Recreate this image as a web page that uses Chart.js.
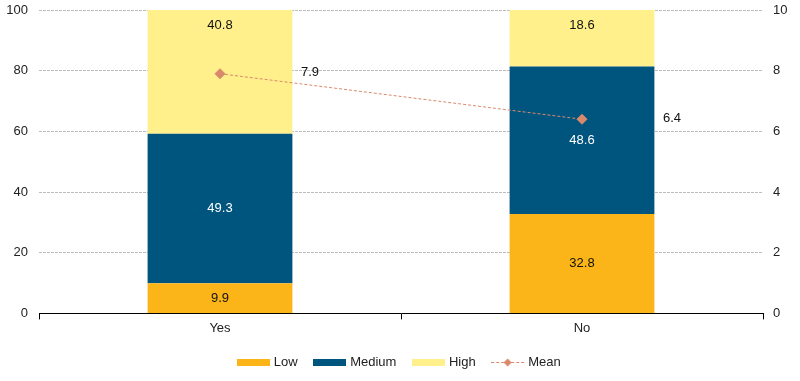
<!DOCTYPE html>
<html><head><meta charset="utf-8">
<script src="https://cdn.jsdelivr.net/npm/chart.js@4/dist/chart.umd.min.js"></script>
<style>html,body{margin:0;padding:0;background:#fff}#wrap{width:800px;height:381px}</style>
</head><body><div id="wrap"><canvas id="c" width="800" height="381"></canvas></div>
<script>
const categories = ["Yes", "No"];
const lowValues = [9.9, 32.8];
const mediumValues = [49.3, 48.6];
const highValues = [40.8, 18.6];
const meanValues = [7.9, 6.4];
const leftTicks = [0, 20, 40, 60, 80, 100];
const rightTicks = [0, 2, 4, 6, 8, 10];

const FONT = "'Liberation Sans', Arial, sans-serif";
const COL_LOW = '#FBB519', COL_MED = '#00557F', COL_HIGH = '#FFF08C', COL_MEAN = '#D98A6C';

function barIcon(color) {
  const c = document.createElement('canvas'); c.width = 33; c.height = 7;
  const x = c.getContext('2d'); x.fillStyle = color; x.fillRect(0, 0, 33, 7); return c;
}
function meanIcon() {
  const c = document.createElement('canvas'); c.width = 33; c.height = 11;
  const x = c.getContext('2d');
  x.strokeStyle = COL_MEAN; x.lineWidth = 1; x.setLineDash([3, 2]);
  x.beginPath(); x.moveTo(0, 5.5); x.lineTo(33, 5.5); x.stroke();
  x.setLineDash([]); x.fillStyle = COL_MEAN;
  x.beginPath(); x.moveTo(16.5, 1.5); x.lineTo(20.5, 5.5); x.lineTo(16.5, 9.5); x.lineTo(12.5, 5.5); x.closePath(); x.fill();
  return c;
}

const labelPlugin = {
  id: 'valueLabels',
  afterDatasetsDraw(chart) {
    const ctx = chart.ctx;
    ctx.save();
    ctx.font = '13px ' + FONT;
    ctx.textAlign = 'center'; ctx.textBaseline = 'middle';
    chart.data.datasets.forEach((ds, di) => {
      const meta = chart.getDatasetMeta(di);
      meta.data.forEach((el, i) => {
        const v = ds.data[i];
        if (ds.type === 'line') {
          ctx.fillStyle = '#111';
          ctx.fillText(v.toFixed(1), el.x + 90, el.y - 1);
        } else {
          const cy = ds.labelAtTop ? Math.min(el.y, el.base) + 15 : (el.y + el.base) / 2;
          ctx.fillStyle = ds.labelColor;
          ctx.fillText(v.toFixed(1), el.x, cy);
        }
      });
    });
    ctx.restore();
  }
};

function fitV(w) {
  return s => { s.width = w; s.paddingTop = 0; s.paddingBottom = 0; };
}

new Chart(document.getElementById('c'), {
  data: {
    labels: categories,
    datasets: [
      { type: 'bar', label: 'Low', data: lowValues, backgroundColor: COL_LOW, labelColor: '#111', yAxisID: 'y', order: 2, icon: barIcon(COL_LOW) },
      { type: 'bar', label: 'Medium', data: mediumValues, backgroundColor: COL_MED, labelColor: '#fff', yAxisID: 'y', order: 2, icon: barIcon(COL_MED) },
      { type: 'bar', label: 'High', data: highValues, backgroundColor: COL_HIGH, labelColor: '#111', labelAtTop: true, yAxisID: 'y', order: 2, icon: barIcon(COL_HIGH) },
      { type: 'line', label: 'Mean', data: meanValues, yAxisID: 'y1', borderColor: COL_MEAN, borderWidth: 1, borderDash: [3, 2],
        pointStyle: 'rectRot', pointRadius: 5, pointBackgroundColor: COL_MEAN, pointBorderColor: COL_MEAN, fill: false, order: 1, icon: meanIcon() }
    ]
  },
  options: {
    responsive: false, animation: false,
    layout: { padding: { top: 10, bottom: 2, left: 0, right: 0 } },
    datasets: { bar: { barPercentage: 0.4, categoryPercentage: 1 } },
    scales: {
      x: { stacked: true, offset: true,
        grid: { offset: true, drawOnChartArea: false, drawTicks: true, tickLength: 6, color: '#000', lineWidth: 1 },
        border: { display: true, color: '#000', width: 1 },
        ticks: { color: '#222', font: { family: FONT, size: 13 }, padding: 1.5 } },
      y: { stacked: true, position: 'left', min: 0, max: 100,
        afterBuildTicks: s => { s.ticks = leftTicks.map(v => ({ value: v })); },
        afterFit: fitV(39),
        grid: { color: '#bcbcbc', lineWidth: 1, drawTicks: false },
        border: { display: false, dash: [3, 1] },
        ticks: { color: '#222', font: { family: FONT, size: 13 }, padding: 11 } },
      y1: { position: 'right', min: 0, max: 10,
        afterBuildTicks: s => { s.ticks = rightTicks.map(v => ({ value: v })); },
        afterFit: fitV(37),
        grid: { display: false },
        border: { display: false },
        ticks: { color: '#222', font: { family: FONT, size: 13 }, padding: 2 } }
    },
    plugins: {
      tooltip: { enabled: false },
      legend: { position: 'bottom',
        labels: { usePointStyle: true, pointStyleWidth: 28, padding: 18, color: '#222', font: { family: FONT, size: 13 },
          generateLabels: chart => chart.data.datasets.map((ds, i) => ({
            text: ds.label, pointStyle: ds.icon, datasetIndex: i, fontColor: '#222', lineWidth: 0, strokeStyle: 'transparent', fillStyle: 'transparent', hidden: false
          })) } }
    }
  },
  plugins: [labelPlugin]
});
</script></body></html>
